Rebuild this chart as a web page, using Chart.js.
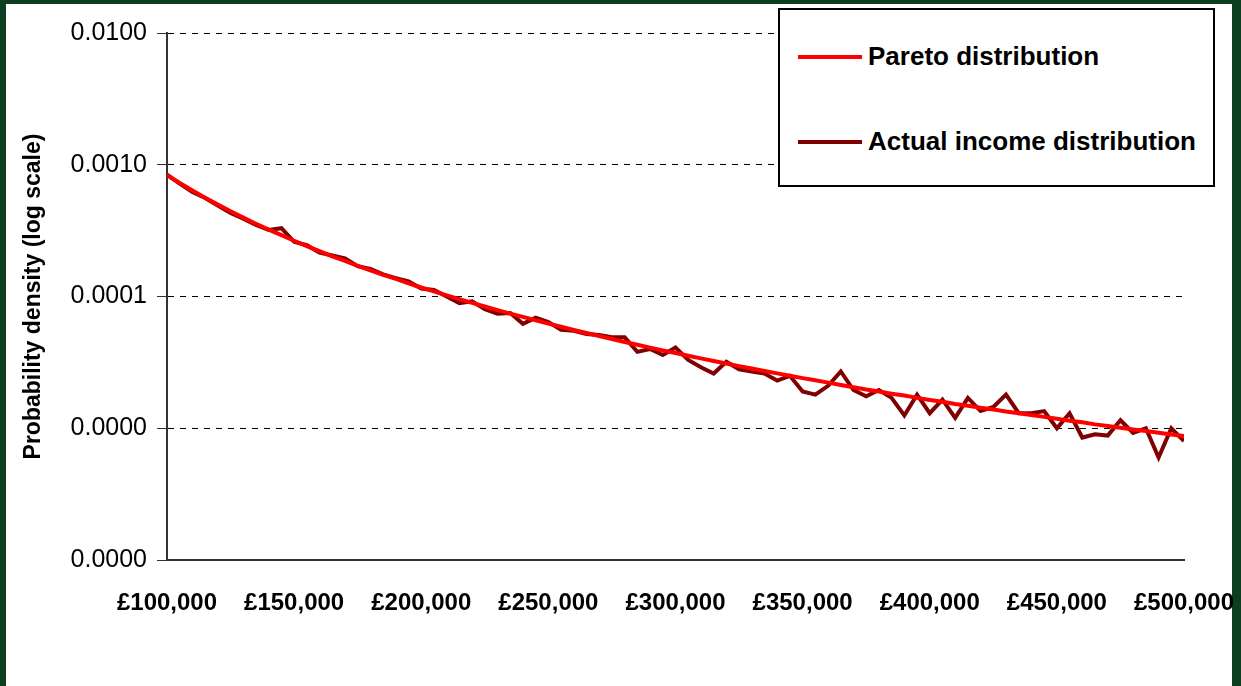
<!DOCTYPE html>
<html><head><meta charset="utf-8">
<script src="https://cdn.jsdelivr.net/npm/chart.js@4/dist/chart.umd.min.js"></script>
<style>
html,body{margin:0;padding:0;}
#wrap{position:relative;width:1241px;height:686px;background:#0b3f1f;overflow:hidden;}
#inner{position:absolute;left:6px;top:4px;width:1226px;height:682px;background:#fff;}
canvas{position:absolute;left:0;top:0;}
#legend{position:absolute;left:778px;top:8px;width:433px;height:175px;border:2px solid #000;background:#fff;font-family:"Liberation Sans",Arial,sans-serif;font-weight:bold;font-size:26px;}
.item{position:absolute;left:18px;display:flex;align-items:center;}
.sw{width:64px;height:4px;margin-right:6px;}
</style></head><body>
<div id="wrap"><div id="inner"></div>
<canvas id="c" width="1241" height="686"></canvas>
<div id="legend">
<div class="item" style="top:31px"><div class="sw" style="background:#ff0000"></div>Pareto distribution</div>
<div class="item" style="top:116px"><div class="sw" style="background:#800000"></div>Actual income distribution</div>
</div></div>
<script>
const incomes = [100,105,110,115,120,125,130,135,140,145,150,155,160,165,170,175,180,185,190,195,200,205,210,215,220,225,230,235,240,245,250,255,260,265,270,275,280,285,290,295,300,305,310,315,320,325,330,335,340,345,350,355,360,365,370,375,380,385,390,395,400,405,410,415,420,425,430,435,440,445,450,455,460,465,470,475,480,485,490,495,500].map(k=>k*1000);
const pareto = [8.36e-4,7.28e-4,6.38e-4,5.63e-4,4.99e-4,4.44e-4,3.97e-4,3.57e-4,3.22e-4,2.92e-4,2.65e-4,2.41e-4,2.21e-4,2.02e-4,1.86e-4,1.71e-4,1.58e-4,1.46e-4,1.36e-4,1.26e-4,1.17e-4,1.095e-4,1.02e-4,9.55e-5,8.94e-5,8.40e-5,7.89e-5,7.42e-5,7.00e-5,6.60e-5,6.23e-5,5.89e-5,5.57e-5,5.28e-5,5.01e-5,4.76e-5,4.52e-5,4.30e-5,4.09e-5,3.90e-5,3.72e-5,3.55e-5,3.39e-5,3.24e-5,3.10e-5,2.96e-5,2.84e-5,2.72e-5,2.61e-5,2.50e-5,2.40e-5,2.31e-5,2.22e-5,2.13e-5,2.05e-5,1.97e-5,1.90e-5,1.83e-5,1.77e-5,1.70e-5,1.64e-5,1.59e-5,1.53e-5,1.48e-5,1.43e-5,1.39e-5,1.34e-5,1.30e-5,1.26e-5,1.22e-5,1.18e-5,1.14e-5,1.11e-5,1.07e-5,1.04e-5,1.01e-5,9.80e-6,9.52e-6,9.25e-6,8.98e-6,8.74e-6];
const actual = [8.4e-4,7.2e-4,6.2e-4,5.6e-4,4.9e-4,4.3e-4,3.9e-4,3.5e-4,3.2e-4,3.3e-4,2.6e-4,2.45e-4,2.15e-4,2.05e-4,1.95e-4,1.7e-4,1.62e-4,1.47e-4,1.38e-4,1.3e-4,1.15e-4,1.12e-4,1.0e-4,8.9e-5,9.2e-5,8.0e-5,7.4e-5,7.5e-5,6.2e-5,6.9e-5,6.4e-5,5.6e-5,5.5e-5,5.2e-5,5.1e-5,4.9e-5,4.9e-5,3.8e-5,4.0e-5,3.6e-5,4.1e-5,3.3e-5,2.9e-5,2.6e-5,3.2e-5,2.8e-5,2.7e-5,2.6e-5,2.3e-5,2.5e-5,1.9e-5,1.8e-5,2.1e-5,2.7e-5,1.95e-5,1.75e-5,1.95e-5,1.7e-5,1.25e-5,1.8e-5,1.3e-5,1.65e-5,1.2e-5,1.7e-5,1.35e-5,1.45e-5,1.8e-5,1.3e-5,1.3e-5,1.35e-5,1.0e-5,1.3e-5,8.5e-6,9.0e-6,8.8e-6,1.15e-5,9.2e-6,1.0e-5,6.0e-6,1.0e-5,8.0e-6];
const yTicks = [1e-6,1e-5,1e-4,1e-3,1e-2];
const xTicks = [100000,150000,200000,250000,300000,350000,400000,450000,500000];
const F = '"Liberation Sans", Arial, sans-serif';
new Chart(document.getElementById('c'), {
  type:'line',
  data:{datasets:[
    {label:'Pareto distribution',data:incomes.map((x,i)=>({x,y:pareto[i]})),borderColor:'#ff0000',borderWidth:4,pointRadius:0,tension:0},
    {label:'Actual income distribution',data:incomes.map((x,i)=>({x,y:actual[i]})),borderColor:'#800000',borderWidth:4,pointRadius:0,tension:0}
  ]},
  options:{
    responsive:false,animation:false,
    layout:{padding:{left:0,top:33,right:57,bottom:0}},
    plugins:{legend:{display:false},tooltip:{enabled:false}},
    scales:{
      x:{type:'linear',min:100000,max:500000,
        afterBuildTicks:s=>{s.ticks=xTicks.map(v=>({value:v}));},
        afterFit:s=>{s.height=126;s.paddingRight=0;s.paddingLeft=0;},
        grid:{display:false,drawTicks:true,tickLength:8,color:'#333'},
        border:{color:'#333',width:2},
        ticks:{color:'#000',font:{family:F,size:24,weight:'bold'},padding:21,maxRotation:0,autoSkip:false,callback:v=>'£'+v.toLocaleString('en-GB')}},
      y:{type:'logarithmic',min:1e-6,max:1e-2,
        afterBuildTicks:s=>{s.ticks=yTicks.map(v=>({value:v}));},
        afterFit:s=>{s.width=167;},
        grid:{color:'#000',lineWidth:1,tickLength:10,tickColor:'#333',drawTicks:true},
        border:{color:'#333',width:2,dash:[6,6]},
        ticks:{color:'#000',font:{family:F,size:25},padding:10,callback:v=>Number(v).toFixed(4)},
        title:{display:true,text:'Probability density (log scale)',color:'#000',font:{family:F,size:23,weight:'bold'},padding:{top:20,bottom:0}}}
    }
  }
});
</script></body></html>
